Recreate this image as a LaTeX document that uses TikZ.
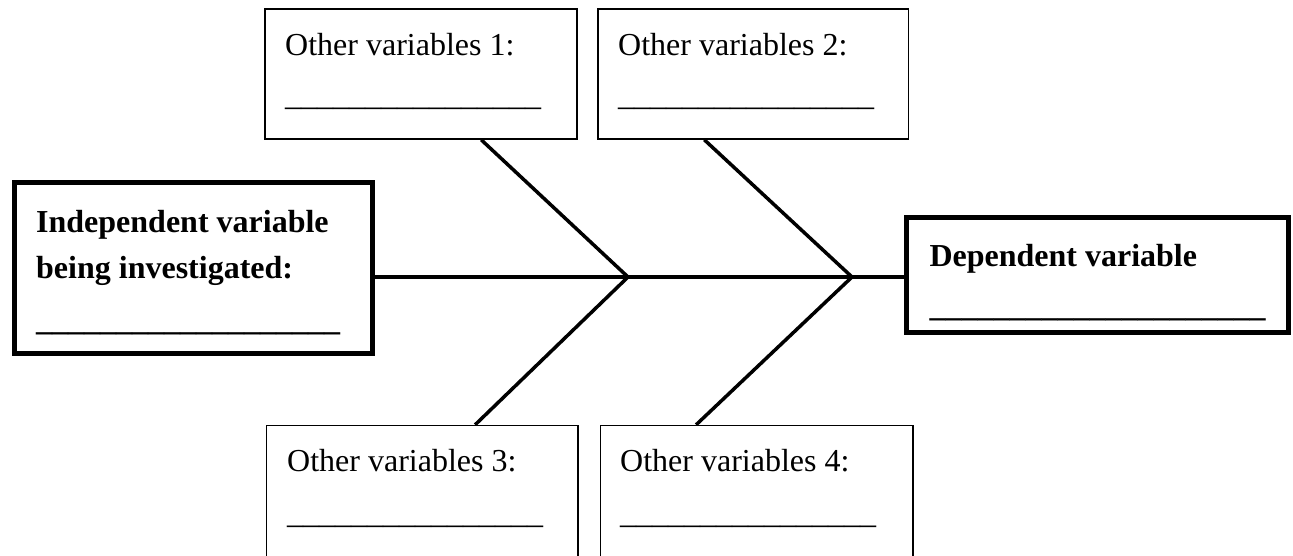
\documentclass[tikz,border=0pt]{standalone}
\usepackage{fontspec}
\setmainfont{Liberation Serif}
\usetikzlibrary{calc}
\begin{document}
\begin{tikzpicture}[x=1pt,y=-1pt,
  thinbox/.style={draw, line width=1.5pt, inner sep=0pt},
  thickbox/.style={draw, line width=5pt, inner sep=0pt},
  lbl/.style={anchor=base west, inner sep=0pt, font=\fontsize{32}{38}\selectfont},
  blbl/.style={anchor=base west, inner sep=0pt, font=\fontsize{32}{38}\selectfont\bfseries},
  bone/.style={line width=3.5pt}]
\clip (0,0) rectangle (1293,555);
% boxes
\node[thinbox, minimum width=312pt, minimum height=130pt] (b1) at (421,74) {};
\node[thinbox, minimum width=310.6pt, minimum height=130pt] (b2) at (753.3,74) {};
\node[thinbox, minimum width=311.3pt, minimum height=150pt] (b3) at (422.3,500.5) {};
\node[thinbox, minimum width=312.5pt, minimum height=150pt] (b4) at (756.75,500.5) {};
\node[thickbox, minimum width=358.5pt, minimum height=171pt] (ind) at (193.25,268) {};
\node[thickbox, minimum width=382.1pt, minimum height=114.5pt] (dep) at (1097.75,274.75) {};
% texts
\node[lbl] (t1) at (285,55) {Other variables 1:};
\node[lbl] (u1) at (285,105) {\_\_\_\_\_\_\_\_\_\_\_\_\_\_\_\_};
\node[lbl] (t2) at (618,55) {Other variables 2:};
\node[lbl] (u2) at (618,105) {\_\_\_\_\_\_\_\_\_\_\_\_\_\_\_\_};
\node[lbl] (t3) at (287,471) {Other variables 3:};
\node[lbl] (u3) at (287,523) {\_\_\_\_\_\_\_\_\_\_\_\_\_\_\_\_};
\node[lbl] (t4) at (620,471) {Other variables 4:};
\node[lbl] (u4) at (620,523) {\_\_\_\_\_\_\_\_\_\_\_\_\_\_\_\_};
\node[blbl] (i1) at (36,232) {Independent variable};
\node[blbl] (i2) at (36,278) {being investigated:};
\node[blbl] (i3) at (36,330) {\_\_\_\_\_\_\_\_\_\_\_\_\_\_\_\_\_\_\_};
\node[blbl] (d1) at (929.3,266.5) {Dependent variable};
\node[blbl] (d2) at (929.3,316) {\_\_\_\_\_\_\_\_\_\_\_\_\_\_\_\_\_\_\_\_\_};
% skeleton
\coordinate (j1) at (628,277);
\coordinate (j2) at (852,277);
\draw[bone] (ind.east |- j1) -- (dep.west |- j1);
\draw[bone] ($(b1.south west)!0.692!(b1.south east)$) -- (j1);
\draw[bone] ($(b2.south west)!0.343!(b2.south east)$) -- (j2);
\draw[bone] ($(b3.north west)!0.669!(b3.north east)$) -- (j1);
\draw[bone] ($(b4.north west)!0.307!(b4.north east)$) -- (j2);
\end{tikzpicture}
\end{document}
